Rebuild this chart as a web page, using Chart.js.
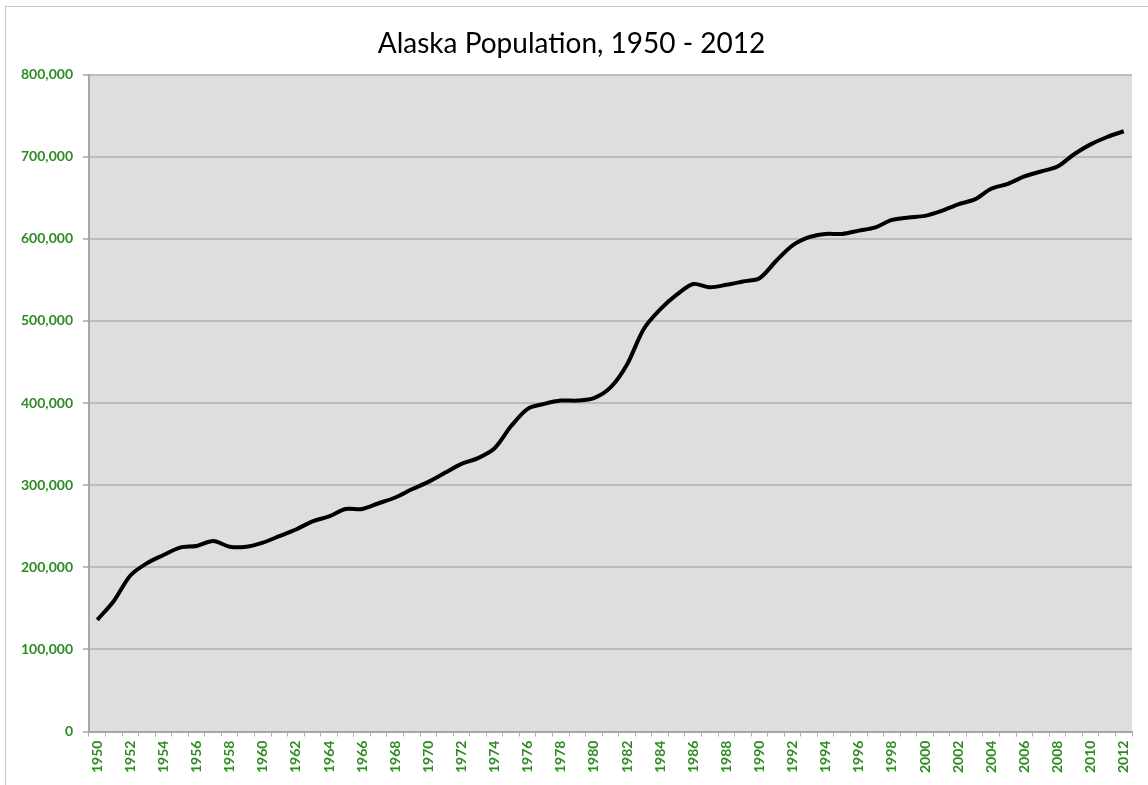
<!DOCTYPE html>
<html>
<head>
<meta charset="utf-8">
<script src="https://cdn.jsdelivr.net/npm/chart.js@4"></script>
<style>
  html, body { margin: 0; padding: 0; background: #fff; }
  #frame { position: absolute; left: 5px; top: 6px; width: 1160px; height: 800px; border: 1px solid #c8c8c8; }
  #wrap { position: absolute; left: 0; top: 0; width: 1148px; height: 785px; }
</style>
</head>
<body>
<div id="frame"></div>
<div id="wrap"><canvas id="chart"></canvas></div>
<script>
const years = [];
for (let y = 1950; y <= 2012; y++) years.push(String(y));

const population = [
  136000, 159000, 190000, 205000, 215000, 224000, 226000, 232000, 225000, 225000,
  230000, 238000, 246000, 256000, 262000, 271000, 271000, 278000, 285000, 295000,
  304000, 315000, 326000, 333000, 345000, 372000, 393000, 399000, 403000, 403000,
  406000, 419000, 447000, 490000, 514000, 532000, 545000, 541000, 544000, 548000,
  552000, 573000, 592000, 602000, 606000, 606000, 610000, 614000, 623000, 626000,
  628000, 634000, 642000, 648000, 661000, 667000, 676000, 682000, 688000, 703000,
  715000, 724000, 731000
];

const yMin = 0;
const yMax = 800000;
const yStep = 100000;

const green = "#2e8b22";

const plotBg = {
  id: "plotBg",
  beforeDraw(chart) {
    const { ctx, chartArea } = chart;
    ctx.save();
    ctx.fillStyle = "#dedede";
    ctx.fillRect(chartArea.left, chartArea.top, chartArea.right - chartArea.left, chartArea.bottom - chartArea.top);
    ctx.restore();
  }
};

const ctx = document.getElementById("chart").getContext("2d");
new Chart(ctx, {
  type: "line",
  data: {
    labels: years,
    datasets: [{
      label: "Population",
      data: population,
      borderColor: "#000",
      borderWidth: 4,
      pointRadius: 0,
      tension: 0.3,
      fill: false
    }]
  },
  options: {
    responsive: true,
    maintainAspectRatio: false,
    animation: false,
    layout: { padding: { left: 11, right: 16, top: 11, bottom: 8 } },
    plugins: {
      legend: { display: false },
      tooltip: { enabled: false },
      title: {
        display: true,
        text: "Alaska Population, 1950 - 2012",
        color: "#000",
        font: { family: "Lato", size: 28, weight: "normal" },
        padding: { top: 16, bottom: 14 }
      }
    },
    scales: {
      x: {
        offset: true,
        grid: { display: true, offset: true, drawOnChartArea: false, drawTicks: true, tickLength: 5, color: "#b0b0b0", lineWidth: 1 },
        border: { color: "#a8a8a8", width: 2 },
        ticks: {
          autoSkip: false,
          maxRotation: 90,
          minRotation: 90,
          color: green,
          font: { family: "Lato", size: 14, weight: "bold" },
          padding: 4,
          callback: function (value, index) {
            return index % 2 === 0 ? this.getLabelForValue(value) : "";
          }
        }
      },
      y: {
        min: yMin,
        max: yMax,
        grid: { color: "#bcbcbc", lineWidth: 2, drawTicks: true, tickLength: 6 },
        border: { color: "#a8a8a8", width: 2 },
        ticks: {
          stepSize: yStep,
          color: green,
          font: { family: "Lato", size: 14, weight: "bold" },
          padding: 10,
          callback: (v) => v.toLocaleString("en-US")
        }
      }
    }
  },
  plugins: [plotBg]
});
</script>
</body>
</html>
